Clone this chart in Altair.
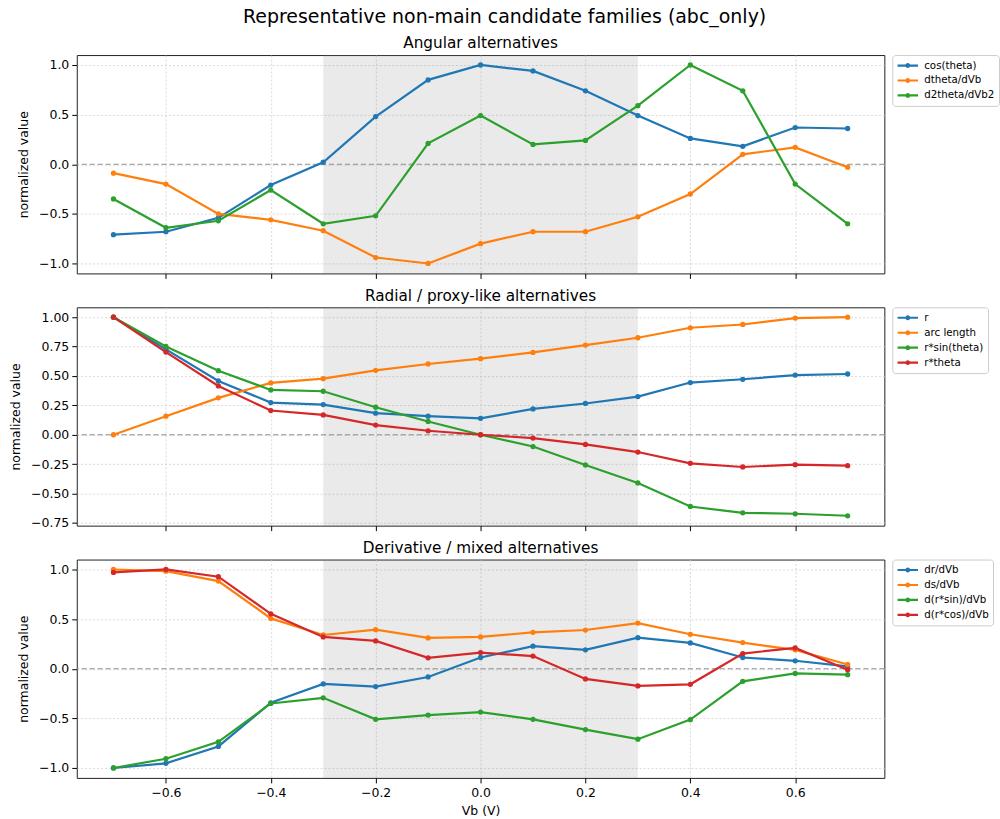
import altair as alt
import pandas as pd

vb = [-0.7, -0.6, -0.5, -0.4, -0.3, -0.2, -0.1, 0.0, 0.1, 0.2, 0.3, 0.4, 0.5, 0.6, 0.7]

# Panel 1: Angular alternatives
cos_theta = [-0.71, -0.68, -0.54, -0.21, 0.02, 0.48, 0.85, 1.0, 0.94, 0.74, 0.49, 0.26, 0.18, 0.37, 0.36]
dtheta_dvb = [-0.09, -0.20, -0.50, -0.56, -0.67, -0.94, -1.0, -0.80, -0.68, -0.68, -0.53, -0.30, 0.10, 0.17, -0.03]
d2theta_dvb2 = [-0.35, -0.64, -0.57, -0.26, -0.60, -0.52, 0.21, 0.49, 0.20, 0.24, 0.59, 1.0, 0.74, -0.20, -0.60]

# Panel 2: Radial / proxy-like alternatives
r_vals = [1.0, 0.726, 0.458, 0.274, 0.257, 0.184, 0.158, 0.14, 0.22, 0.266, 0.325, 0.444, 0.472, 0.508, 0.517]
arc_length = [0.0, 0.158, 0.314, 0.441, 0.477, 0.548, 0.602, 0.647, 0.70, 0.763, 0.825, 0.91, 0.938, 0.992, 1.0]
r_sin = [1.0, 0.751, 0.545, 0.381, 0.37, 0.234, 0.113, 0.0, -0.10, -0.257, -0.41, -0.61, -0.664, -0.672, -0.689]
r_theta = [1.0, 0.703, 0.415, 0.206, 0.169, 0.082, 0.034, 0.0, -0.028, -0.082, -0.147, -0.243, -0.274, -0.254, -0.263]

# Panel 3: Derivative / mixed alternatives
dr_dvb = [-1.0, -0.953, -0.783, -0.343, -0.153, -0.18, -0.083, 0.113, 0.227, 0.19, 0.313, 0.26, 0.113, 0.08, 0.023]
ds_dvb = [1.0, 0.983, 0.883, 0.507, 0.34, 0.393, 0.31, 0.32, 0.367, 0.39, 0.46, 0.347, 0.263, 0.19, 0.043]
d_rsin_dvb = [-1.0, -0.907, -0.737, -0.35, -0.293, -0.51, -0.467, -0.437, -0.51, -0.613, -0.71, -0.513, -0.127, -0.047, -0.06]
d_rcos_dvb = [0.97, 1.0, 0.927, 0.553, 0.32, 0.28, 0.11, 0.163, 0.127, -0.103, -0.173, -0.157, 0.153, 0.21, -0.01]

shade_range = [-0.3, 0.3]
x_ticks = [-0.6, -0.4, -0.2, 0.0, 0.2, 0.4, 0.6]
colors = ["#1f77b4", "#ff7f0e", "#2ca02c", "#d62728"]

FONT = "DejaVu Sans"
W, H = 810, 219
LEGEND_PATH = "M-1,0L1,0M0.13,0A0.13,0.13,0,1,1,-0.13,0A0.13,0.13,0,1,1,0.13,0"


def panel(title, names, series, ydomain, yticks, yfmt, bottom):
    rows = []
    for name, vals in zip(names, series):
        for x, y in zip(vb, vals):
            rows.append({"Vb": x, "value": y, "series": name})
    df = pd.DataFrame(rows)

    xscale = alt.Scale(domain=[-0.77, 0.77], nice=False, zero=False)
    yscale = alt.Scale(domain=ydomain, nice=False, zero=False)
    if bottom:
        xaxis = alt.Axis(values=x_ticks, format=".1f", title="Vb (V)", grid=True,
                         labelPadding=4, titlePadding=5)
    else:
        xaxis = alt.Axis(values=x_ticks, labels=False, title=None, grid=True)
    yaxis = alt.Axis(values=yticks, format=yfmt, title="normalized value", grid=True,
                     labelPadding=3, titlePadding=8)

    shade = alt.Chart(pd.DataFrame({"x0": [shade_range[0]], "x1": [shade_range[1]]})).mark_rect(
        color="#808080", opacity=0.17
    ).encode(
        x=alt.X("x0:Q", scale=xscale, axis=xaxis),
        x2="x1:Q",
        y=alt.value(0),
        y2=alt.value(H),
    )

    zero = alt.Chart(pd.DataFrame({"z": [0.0]})).mark_rule(
        color="#909090", strokeDash=[5, 3], strokeWidth=1.1
    ).encode(y=alt.Y("z:Q", scale=yscale, axis=yaxis))

    lines = alt.Chart(df).mark_line(
        strokeWidth=2.2,
        point=alt.OverlayMarkDef(filled=True, size=28),
    ).encode(
        x=alt.X("Vb:Q", scale=xscale, axis=xaxis),
        y=alt.Y("value:Q", scale=yscale, axis=yaxis),
        color=alt.Color(
            "series:N",
            scale=alt.Scale(domain=names, range=colors[: len(names)]),
            sort=names,
            legend=alt.Legend(
                title=None,
                orient="right",
                offset=8,
                padding=4,
                strokeColor="#cccccc",
                cornerRadius=3,
                fillColor="white",
                labelFont=FONT,
                labelFontSize=10.3,
                labelColor="black",
                labelOffset=5,
                symbolType=LEGEND_PATH,
                symbolSize=420,
                symbolStrokeWidth=2.2,
                clipHeight=13,
                rowPadding=2,
            ),
        ),
    )

    return alt.layer(shade, zero, lines).properties(
        width=W,
        height=H,
        title=alt.TitleParams(title, fontSize=15.3, fontWeight="normal", font=FONT,
                              color="black", offset=3),
    )


p1 = panel(
    "Angular alternatives",
    ["cos(theta)", "dtheta/dVb", "d2theta/dVb2"],
    [cos_theta, dtheta_dvb, d2theta_dvb2],
    [-1.1, 1.1], [-1.0, -0.5, 0.0, 0.5, 1.0], ".1f", False,
)
p2 = panel(
    "Radial / proxy-like alternatives",
    ["r", "arc length", "r*sin(theta)", "r*theta"],
    [r_vals, arc_length, r_sin, r_theta],
    [-0.773, 1.084], [-0.75, -0.5, -0.25, 0.0, 0.25, 0.5, 0.75, 1.0], ".2f", False,
)
p3 = panel(
    "Derivative / mixed alternatives",
    ["dr/dVb", "ds/dVb", "d(r*sin)/dVb", "d(r*cos)/dVb"],
    [dr_dvb, ds_dvb, d_rsin_dvb, d_rcos_dvb],
    [-1.1, 1.1], [-1.0, -0.5, 0.0, 0.5, 1.0], ".1f", True,
)

chart = alt.vconcat(p1, p2, p3, spacing=8).resolve_scale(
    color="independent"
).properties(
    title=alt.TitleParams(
        "Representative non-main candidate families (abc_only)",
        fontSize=19, fontWeight="normal", font=FONT, color="black", anchor="middle", offset=9,
    ),
    padding={"left": 9, "top": 6, "right": 0, "bottom": 0},
).configure_view(
    stroke="#222222", strokeWidth=1
).configure_axis(
    labelFont=FONT, titleFont=FONT, labelFontSize=12.5, titleFontSize=12.5,
    labelColor="black", titleColor="black", titleFontWeight="normal",
    tickColor="black", tickSize=5, tickWidth=1, domain=False,
    gridColor="#cfcfcf", gridDash=[2, 2], gridWidth=0.8,
)

chart.save("out.html", embed_options={"renderer": "svg", "actions": False})
